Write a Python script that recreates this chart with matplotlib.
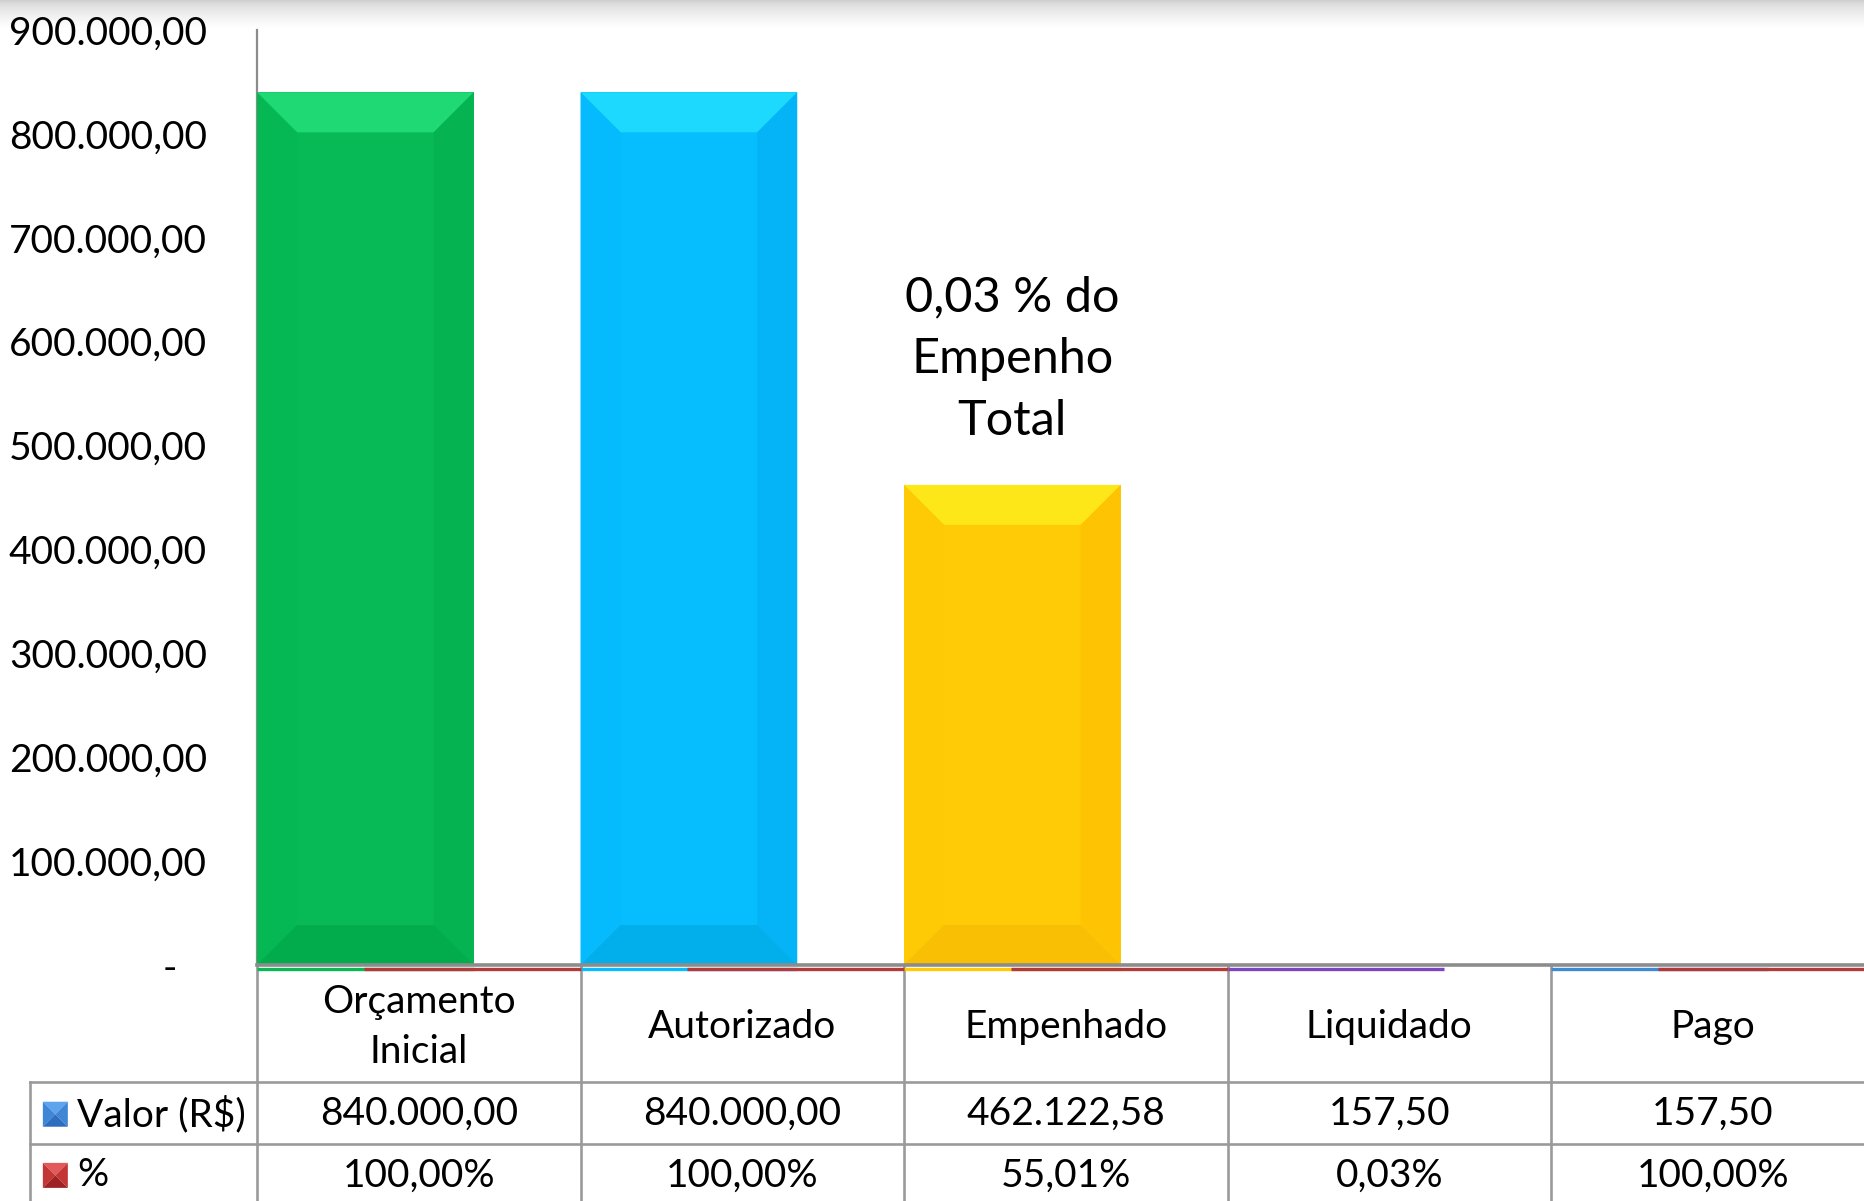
import numpy as np
import matplotlib
matplotlib.use("Agg")
import matplotlib.pyplot as plt
from matplotlib.patches import Polygon
from matplotlib import transforms

plt.rcParams['font.family'] = ['Lato', 'DejaVu Sans']

# dados
categorias = ["Orçamento\nInicial", "Autorizado", "Empenhado", "Liquidado", "Pago"]
valores = [840000.00, 840000.00, 462122.58, 157.50, 157.50]
percentuais = [100.00, 100.00, 55.01, 0.03, 100.00]
yticks = [0, 100000, 200000, 300000, 400000, 500000, 600000, 700000, 800000, 900000]
anotacao = "0,03 % do\nEmpenho\nTotal"
serie_nomes = ["Valor (R$)", "%"]

# cores: principal, topo, esquerda, direita, base
cores = [
    ("#07BA56", "#1FD974", "#06B853", "#05B351", "#02AC4D"),
    ("#06BDFE", "#1DD9FD", "#06BBFD", "#04B4F7", "#03AFEA"),
    ("#FECB06", "#FEE719", "#FEC905", "#FEC303", "#F9BF04"),
    ("#7E45C0", "#7E45C0", "#7E45C0", "#7E45C0", "#7E45C0"),
    ("#3D8BD5", "#3D8BD5", "#3D8BD5", "#3D8BD5", "#3D8BD5"),
]
cor_pct = "#B23A3A"
cor_grade = "#9a9a9a"


def fmt_brl(v):
    s = f"{v:,.2f}"
    return s.replace(",", "X").replace(".", ",").replace("X", ".")


W, H = 1864, 1201
fig = plt.figure(figsize=(W / 100, H / 100), dpi=100)

# sombra no topo
gax = fig.add_axes([0, 1 - 28 / H, 1, 28 / H])
gax.axis('off')
t = np.linspace(0, 1, 60)[:, None]
gax.imshow(0.80 + 0.20 * t ** 0.6, cmap='gray', vmin=0, vmax=1, aspect='auto',
           extent=[0, 1, 0, 1], interpolation='bilinear')

slot = 323.5
ax = fig.add_axes([257 / W, (H - 965) / H, 5 * slot / W, 935 / H])
ax.set_xlim(0, 5)
ax.set_ylim(0, 900000)

larg = 0.67
bx = 40 / slot
by = 40 / 935 * 900000

x = np.arange(len(categorias))
barras = ax.bar(x, valores, width=larg, align='edge',
                color=[c[0] for c in cores], zorder=2)

# efeito bisel
for b, c in zip(barras, cores):
    x0, x1 = b.get_x(), b.get_x() + b.get_width()
    y0, y1 = 0, b.get_height()
    if y1 < 2 * by:
        continue
    polys = [
        ([(x0, y1), (x1, y1), (x1 - bx, y1 - by), (x0 + bx, y1 - by)], c[1]),
        ([(x0, y0), (x0, y1), (x0 + bx, y1 - by), (x0 + bx, y0 + by)], c[2]),
        ([(x1, y0), (x1, y1), (x1 - bx, y1 - by), (x1 - bx, y0 + by)], c[3]),
        ([(x0, y0), (x1, y0), (x1 - bx, y0 + by), (x0 + bx, y0 + by)], c[4]),
    ]
    for pts, fc in polys:
        ax.add_patch(Polygon(pts, closed=True, facecolor=fc, edgecolor='none', zorder=3))

# linhas finas logo abaixo do eixo (serie % e barras pequenas)
off = transforms.offset_copy(ax.transData, fig=fig, x=0, y=-3.5, units='dots')
for i, c in enumerate(cores):
    ax.hlines(0, i, i + larg, color=c[0], lw=2.4, transform=off, clip_on=False, zorder=4)
for i, p in enumerate(percentuais):
    if p >= 1:
        ax.hlines(0, i + 1 - larg, i + 1, color=cor_pct, lw=2.4, transform=off,
                  clip_on=False, zorder=5)

ax.text(2 + larg / 2, 583000, anotacao, ha='center', va='center',
        fontsize=35, linespacing=1.5, zorder=6)

# eixos
ax.set_yticks(yticks)
ax.set_yticklabels(["-   " if v == 0 else fmt_brl(v) for v in yticks])
ax.tick_params(axis='y', length=0, pad=36, labelsize=28)
ax.set_xticks([])
for s in ['top', 'right']:
    ax.spines[s].set_visible(False)
ax.spines['left'].set_color('#8c8c8c')
ax.spines['left'].set_linewidth(1.6)
ax.spines['bottom'].set_color('#8c8c8c')
ax.spines['bottom'].set_linewidth(2.6)
ax.spines['bottom'].set_zorder(6)

# tabela de dados
blend = transforms.blended_transform_factory(ax.transData, ax.transAxes)
y_h = -0.125
y_v = -0.1914
y_fim = -0.32
x_leg = -0.702
kw = dict(color=cor_grade, lw=1.9, transform=blend, clip_on=False)
for i in range(len(categorias) + 1):
    ax.plot([i, i], [0, y_fim], **kw)
ax.plot([x_leg, x_leg], [y_h, y_fim], **kw)
ax.plot([x_leg, 5], [y_h, y_h], **kw)
ax.plot([x_leg, 5], [y_v, y_v], **kw)

y_cat = -0.066
y_val = -0.1596
y_pct = -0.225
for i, cat in enumerate(categorias):
    ax.text(i + 0.5, y_cat, cat, ha='center', va='center', fontsize=28,
            linespacing=1.48, transform=blend, clip_on=False)
    ax.text(i + 0.5, y_val, fmt_brl(valores[i]), ha='center', va='center',
            fontsize=28, transform=blend)
    ax.text(i + 0.5, y_pct, fmt_brl(percentuais[i]) + "%", ha='center',
            va='center', fontsize=28, transform=blend)

# chaves da legenda (quadrado com efeito piramide)
def chave(yc, tons):
    sx, sy = 25 / slot, 25 / 935
    xa, xb = -0.662, -0.662 + sx
    ya, yb = yc - sy / 2, yc + sy / 2
    xm, ym = (xa + xb) / 2, (ya + yb) / 2
    tris = [
        ([(xa, yb), (xb, yb), (xm, ym)], tons[0]),
        ([(xa, ya), (xa, yb), (xm, ym)], tons[1]),
        ([(xb, ya), (xb, yb), (xm, ym)], tons[1]),
        ([(xa, ya), (xb, ya), (xm, ym)], tons[2]),
    ]
    for pts, fc in tris:
        ax.add_patch(Polygon(pts, closed=True, facecolor=fc, edgecolor='none',
                             transform=blend, clip_on=False))

chave(y_val, ("#5EA3EE", "#3F86D6", "#2E6EBE"))
chave(y_pct, ("#E25A5A", "#C43636", "#9E2222"))
ax.text(-0.556, y_val, serie_nomes[0], ha='left', va='center', fontsize=28, transform=blend)
ax.text(-0.556, y_pct, serie_nomes[1], ha='left', va='center', fontsize=28, transform=blend)

fig.savefig("out.png", dpi=100)
